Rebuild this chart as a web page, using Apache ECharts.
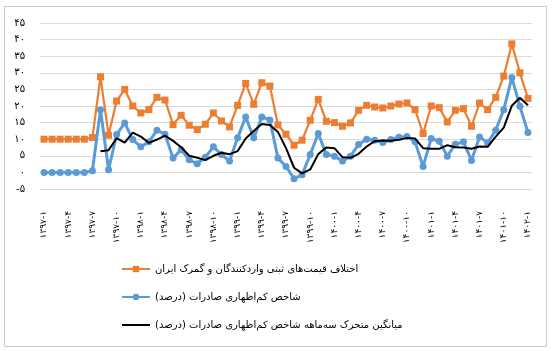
<!DOCTYPE html>
<html>
<head>
<meta charset="utf-8">
<script src="https://cdn.jsdelivr.net/npm/echarts@6/dist/echarts.min.js"></script>
<style>
  html, body { margin: 0; padding: 0; background: #fff; }
  #main { width: 553px; height: 351px; }
</style>
</head>
<body>
<div id="main"></div>
<script>
// months (year-month), one point per month
var months = [
  '1397-1', '1397-2', '1397-3', '1397-4', '1397-5', '1397-6', '1397-7', '1397-8', '1397-9', '1397-10', '1397-11', '1397-12',
  '1398-1', '1398-2', '1398-3', '1398-4', '1398-5', '1398-6', '1398-7', '1398-8', '1398-9', '1398-10', '1398-11', '1398-12',
  '1399-1', '1399-2', '1399-3', '1399-4', '1399-5', '1399-6', '1399-7', '1399-8', '1399-9', '1399-10', '1399-11', '1399-12',
  '1400-1', '1400-2', '1400-3', '1400-4', '1400-5', '1400-6', '1400-7', '1400-8', '1400-9', '1400-10', '1400-11', '1400-12',
  '1401-1', '1401-2', '1401-3', '1401-4', '1401-5', '1401-6', '1401-7', '1401-8', '1401-9', '1401-10', '1401-11', '1401-12',
  '1402-1'
]

var seriesNames = [
  'اختلاف قیمت\u200cهای ثبتی واردکنندگان و گمرک ایران',
  'شاخص کم\u200cاظهاری صادرات (درصد)',
  'میانگین متحرک سه\u200cماهه شاخص کم\u200cاظهاری صادرات (درصد)'
]

// اختلاف قیمت های ثبتی
var priceGap = [
  10, 10, 10, 10, 10, 10, 10.5, 28.8, 11.2, 21.5, 25, 20,
  17.9, 18.9, 22.6, 21.8, 14.4, 17.2, 14.2, 12.9, 14.5, 17.9, 15.5, 13.7,
  20.2, 26.8, 20.5, 27, 26, 14.3, 11.5, 8.2, 9.7, 15.7, 22, 15.4,
  15, 13.9, 14.9, 18.7, 20.2, 19.7, 19.4, 20, 20.6, 20.9, 18.9, 11.7,
  20, 19.5, 15.2, 18.7, 19.2, 13.9, 20.9, 18.9, 22.6, 29, 38.7, 30,
  22.3
]

// شاخص کم اظهاری صادرات
var underReport = [
  0, 0, 0, 0, 0, 0, 0.5, 18.9, 0.8, 11.4, 14.9, 9.9,
  7.7, 9.2, 12.7, 11.5, 4.3, 6.8, 3.8, 2.6, 4.6, 7.7, 5.4, 3.4,
  10.4, 16.7, 10.4, 16.7, 15.8, 4.3, 1.8, -1.9, -0.7, 5.4, 11.7, 5.4,
  4.9, 3.4, 4.9, 8.4, 10, 9.7, 9, 9.9, 10.6, 10.8, 9.2, 1.8,
  10.2, 9.4, 4.9, 8.5, 9.2, 3.6, 10.7, 8.9, 12.7, 18.9, 28.6, 19.9,
  12
]

// میانگین متحرک سه ماهه
var movingAvg = [
  null, null, null, null, null, null, null, 6.4, 6.7, 10.3, 9, 12,
  10.8, 8.9, 9.9, 11.1, 9.5, 7.6, 5, 4.4, 3.7, 5, 5.9, 5.5,
  6.4, 10.2, 12.5, 14.6, 14.3, 12.2, 7.3, 1.4, -0.3, 0.9, 5.5, 7.5,
  7.3, 4.6, 4.4, 5.6, 7.8, 9.4, 9.6, 9.5, 9.8, 10.4, 10.2, 7.3,
  7.1, 7.1, 8.2, 7.6, 7.5, 7.1, 7.8, 7.7, 10.8, 13.5, 20.1, 22.5,
  20.2
]

var faDigits = '۰۱۲۳۴۵۶۷۸۹'
function toFa (s) {
  return String(s).replace(/[0-9]/g, function (d) { return faDigits[+d] })
}

var font = 'DejaVu Sans'
var chart = echarts.init(document.getElementById('main'))

var option = {
  animation: false,
  textStyle: { fontFamily: font },
  graphic: [
    {
      type: 'rect',
      shape: { x: 4.5, y: 6.5, width: 542, height: 340 },
      style: { fill: 'none', stroke: '#c8c8c8', lineWidth: 1 },
      silent: true
    }
  ],
  grid: {
    left: 40,
    right: 21,
    top: 23,
    bottom: 162
  },
  legend: {
    orient: 'vertical',
    left: 116,
    top: 259,
    itemGap: 18,
    itemWidth: 28,
    itemHeight: 8,
    data: [
      { name: seriesNames[0] },
      { name: seriesNames[1] },
      { name: seriesNames[2], itemStyle: { opacity: 0 }, lineStyle: { color: '#000', width: 2, opacity: 1 } }
    ],
    textStyle: { fontFamily: font, fontSize: 10, color: '#000' },
    formatter: function (name) { return name + '\u200f' }
  },
  xAxis: {
    type: 'category',
    data: months,
    boundaryGap: true,
    axisLine: { show: false },
    axisTick: { show: false },
    axisLabel: {
      interval: 2,
      rotate: 90,
      margin: 22,
      fontSize: 9,
      color: '#000',
      fontFamily: font,
      formatter: function (v) { return toFa(v) }
    }
  },
  yAxis: {
    type: 'value',
    min: -5,
    max: 45,
    interval: 5,
    axisLine: { show: false },
    axisTick: { show: false },
    splitLine: { lineStyle: { color: '#d9d9d9', width: 1 } },
    axisLabel: {
      margin: 15,
      fontSize: 10,
      color: '#000',
      fontFamily: font,
      padding: [0, 0, 8, 0],
      formatter: function (v) { return toFa(v) }
    }
  },
  series: [
    {
      name: seriesNames[0],
      type: 'line',
      data: priceGap,
      symbol: 'rect',
      symbolSize: 7,
      showAllSymbol: true,
      lineStyle: { color: '#ED7D31', width: 2.2 },
      itemStyle: { color: '#ED7D31' },
      z: 2
    },
    {
      name: seriesNames[1],
      type: 'line',
      data: underReport,
      symbol: 'circle',
      symbolSize: 7,
      showAllSymbol: true,
      lineStyle: { color: '#5B9BD5', width: 3 },
      itemStyle: { color: '#5B9BD5' },
      z: 3
    },
    {
      name: seriesNames[2],
      type: 'line',
      data: movingAvg,
      symbol: 'none',
      lineStyle: { color: '#000000', width: 2 },
      itemStyle: { color: '#000000' },
      z: 4
    }
  ]
}

chart.setOption(option)
</script>
</body>
</html>
